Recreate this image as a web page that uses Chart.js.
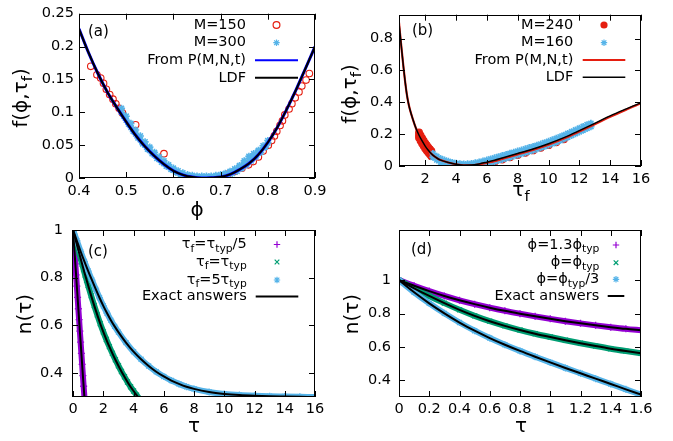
<!DOCTYPE html>
<html lang="en">
<head>
  <meta charset="UTF-8" />
  <title>Large deviation panels</title>
  <script src="https://cdn.jsdelivr.net/npm/chart.js"></script>
  <style>
    html, body { margin: 0; padding: 0; background: #fff; }
    #wrap { position: relative; width: 673px; height: 441px; }
    #wrap canvas { position: absolute; left: 0; top: 0; }
  </style>
</head>
<body>
  <div id="wrap">
    <canvas id="pa" width="673" height="441"></canvas>
    <canvas id="pb" width="673" height="441"></canvas>
    <canvas id="pc" width="673" height="441"></canvas>
    <canvas id="pd" width="673" height="441"></canvas>
  </div>

  <script>
    // ---------- panel (a) ----------
    const aTicksX = [0.4, 0.5, 0.6, 0.7, 0.8, 0.9];
    const aTicksY = [0, 0.05, 0.1, 0.15, 0.2, 0.25];
    const aCurveX = [0.40, 0.42, 0.44, 0.46, 0.48, 0.50, 0.52, 0.54, 0.56, 0.58, 0.60, 0.62, 0.64,
                     0.66, 0.68, 0.70, 0.72, 0.74, 0.76, 0.78, 0.80, 0.82, 0.84, 0.86, 0.88, 0.90];
    const aLdfY   = [0.227, 0.191, 0.159, 0.131, 0.1075, 0.0855, 0.065, 0.0478, 0.0333, 0.021, 0.011, 0.0048, 0.0014,
                     0.0, 0.0004, 0.0015, 0.0055, 0.0128, 0.022, 0.0355, 0.054, 0.077, 0.1045, 0.1345, 0.167, 0.200];
    const aFromPY = [0.227, 0.191, 0.159, 0.131, 0.1075, 0.0855, 0.065, 0.0478, 0.0333, 0.021, 0.011, 0.0048, 0.0014,
                     0.0, 0.0004, 0.0015, 0.0055, 0.0128, 0.022, 0.0355, 0.054, 0.077, 0.1045, 0.1345, 0.167, 0.200];
    const aM150X = [0.425, 0.438, 0.446, 0.452, 0.458, 0.465, 0.472, 0.478, 0.485, 0.492, 0.520, 0.580,
                    0.705, 0.716, 0.730, 0.745, 0.759, 0.769, 0.780, 0.790, 0.801, 0.808, 0.814, 0.819,
                    0.826, 0.831, 0.836, 0.845, 0.851, 0.858, 0.866, 0.872, 0.881, 0.888];
    const aM150Y = [0.170, 0.157, 0.152, 0.144, 0.135, 0.127, 0.120, 0.113, 0.106, 0.099, 0.081, 0.037,
                    0.003, 0.006, 0.010, 0.015, 0.020, 0.025, 0.032, 0.041, 0.050, 0.057, 0.064, 0.071,
                    0.080, 0.087, 0.096, 0.105, 0.113, 0.122, 0.131, 0.140, 0.149, 0.159];
    const aM300XA = [0.49, 0.50, 0.51, 0.52, 0.53, 0.54, 0.55, 0.56, 0.57, 0.58, 0.59, 0.60, 0.61, 0.62, 0.63, 0.64,
                     0.65, 0.66, 0.67, 0.68, 0.69, 0.70, 0.71, 0.72, 0.73, 0.74, 0.75, 0.76, 0.77, 0.78, 0.79, 0.80];
    const aM300YA = [0.106, 0.094, 0.083, 0.073, 0.064, 0.055, 0.047, 0.039, 0.032, 0.026, 0.020, 0.015, 0.011, 0.008, 0.005, 0.004,
                     0.003, 0.003, 0.003, 0.003, 0.004, 0.005, 0.007, 0.010, 0.014, 0.019, 0.026, 0.033, 0.037, 0.042, 0.049, 0.057];
    const aM300XB = [0.495, 0.505, 0.515, 0.525, 0.535, 0.545, 0.555, 0.565, 0.575, 0.585, 0.595, 0.605, 0.615, 0.625, 0.635, 0.645,
                     0.655, 0.665, 0.675, 0.685, 0.695, 0.705, 0.715, 0.725, 0.735, 0.745, 0.755, 0.765, 0.775, 0.785, 0.795];
    const aM300YB = [0.094, 0.082, 0.071, 0.061, 0.052, 0.044, 0.037, 0.030, 0.024, 0.018, 0.013, 0.009, 0.006, 0.003, 0.001, 0.0005,
                     0, 0, 0, 0.0005, 0.001, 0.002, 0.004, 0.007, 0.010, 0.015, 0.020, 0.026, 0.032, 0.039, 0.047];
    const aM300YC = [0.100, 0.088, 0.077, 0.067, 0.058, 0.050, 0.042, 0.035, 0.028, 0.022, 0.017, 0.012, 0.008, 0.005, 0.003, 0.002,
                     0.001, 0.001, 0.001, 0.001, 0.002, 0.003, 0.005, 0.008, 0.012, 0.017, 0.023, 0.030, 0.034, 0.040, 0.046, 0.053];

    // ---------- panel (b) ----------
    const bTicksX = [2, 4, 6, 8, 10, 12, 14, 16];
    const bTicksY = [0, 0.2, 0.4, 0.6, 0.8];
    const bCurveX = [0.3, 0.4, 0.5, 0.6, 0.7, 0.8, 0.9, 1.0, 1.2, 1.4, 1.6, 1.8, 2.0, 2.2, 2.4, 2.6, 2.8, 3.0,
                     3.5, 4.0, 4.5, 5.0, 5.5, 6.0, 6.5, 7.0, 7.5, 8.0, 9, 10, 11, 12, 13, 14, 15, 16];
    const bLdfY   = [0.90, 0.80, 0.705, 0.612, 0.528, 0.455, 0.40, 0.358, 0.293, 0.237, 0.193, 0.157, 0.125, 0.099, 0.077, 0.060, 0.047, 0.037,
                     0.022, 0.011, 0.005, 0.006, 0.013, 0.024, 0.036, 0.050, 0.064, 0.078, 0.107, 0.140, 0.178, 0.222, 0.268, 0.315, 0.357, 0.397];
    const bFromPY = [0.90, 0.80, 0.705, 0.612, 0.528, 0.455, 0.40, 0.358, 0.293, 0.237, 0.193, 0.157, 0.125, 0.099, 0.077, 0.060, 0.047, 0.037,
                     0.022, 0.011, 0.004, 0.004, 0.010, 0.020, 0.031, 0.045, 0.059, 0.073, 0.101, 0.134, 0.172, 0.216, 0.262, 0.309, 0.352, 0.393];
    const bM240X = [1.6, 1.7, 1.8, 1.9, 2.0, 2.1, 2.2, 2.3, 2.4];
    const bM240UpperY = [0.211, 0.192, 0.175, 0.159, 0.143, 0.130, 0.117, 0.106, 0.095];
    const bM240MidY   = [0.193, 0.174, 0.157, 0.141, 0.125, 0.112, 0.099, 0.088, 0.077];
    const bM240LowerY = [0.178, 0.159, 0.142, 0.126, 0.110, 0.097, 0.084, 0.073, 0.062];
    const bM240TailX = [4.5, 5.0, 5.5, 6.0, 6.5, 7.0, 7.5, 8.0, 8.5, 9.0, 9.5, 10, 10.5, 11];
    const bM240TailY = [-0.003, -0.002, 0.005, 0.015, 0.027, 0.041, 0.055, 0.069, 0.083, 0.098, 0.114, 0.131, 0.149, 0.168];
    const bM160X = [2.5, 2.75, 3, 3.25, 3.5, 3.75, 4, 4.25, 4.5, 4.75, 5, 5.25, 5.5, 5.75, 6, 6.25, 6.5, 6.75, 7, 7.25, 7.5,
                    7.75, 8, 8.25, 8.5, 8.75, 9, 9.25, 9.5, 9.75, 10, 10.25, 10.5, 10.75, 11, 11.25, 11.5, 11.75, 12, 12.25, 12.5, 12.75];
    const bM160UpperY = [0.078, 0.060, 0.046, 0.037, 0.029, 0.022, 0.017, 0.014, 0.012, 0.013, 0.015, 0.019, 0.024, 0.030, 0.037,
                         0.044, 0.051, 0.058, 0.065, 0.072, 0.079, 0.086, 0.093, 0.100, 0.107, 0.115, 0.122, 0.130, 0.138, 0.146,
                         0.155, 0.164, 0.173, 0.183, 0.193, 0.204, 0.215, 0.226, 0.237, 0.248, 0.259, 0.268];
    const bM160LowerY = [0.055, 0.038, 0.024, 0.015, 0.008, 0.003, 0.000, -0.002, -0.003, -0.003, -0.002, 0.001, 0.005, 0.010, 0.016,
                         0.022, 0.028, 0.035, 0.042, 0.049, 0.056, 0.063, 0.070, 0.077, 0.084, 0.092, 0.099, 0.107, 0.115, 0.123,
                         0.132, 0.141, 0.150, 0.160, 0.170, 0.181, 0.192, 0.203, 0.214, 0.225, 0.236, 0.247];

    // ---------- panel (c) ----------
    const cTicksX = [0, 2, 4, 6, 8, 10, 12, 14, 16];
    const cTicksY = [0.4, 0.6, 0.8, 1];
    const cFifthX = [0, 0.05, 0.1, 0.15, 0.2, 0.25, 0.3, 0.35, 0.4, 0.45, 0.5, 0.55, 0.6, 0.65, 0.7, 0.75, 0.8];
    const cFifthY = [1, 0.95, 0.905, 0.858, 0.812, 0.765, 0.718, 0.67, 0.624, 0.576, 0.53, 0.483, 0.437, 0.39, 0.345, 0.30, 0.255];
    const cTypX = [0, 0.1, 0.2, 0.3, 0.4, 0.5, 0.6, 0.7, 0.8, 0.9, 1.0, 1.2, 1.4, 1.6, 1.8, 2.0, 2.2, 2.4, 2.6, 2.8,
                   3.0, 3.2, 3.4, 3.6, 3.8, 4.0, 4.2, 4.4, 4.6];
    const cTypY = [1, 0.975, 0.951, 0.927, 0.904, 0.881, 0.857, 0.834, 0.811, 0.789, 0.767, 0.724, 0.683, 0.644, 0.607,
                   0.573, 0.541, 0.511, 0.483, 0.456, 0.431, 0.407, 0.385, 0.363, 0.343, 0.325, 0.308, 0.292, 0.277];
    const cFiveX = [0, 0.25, 0.5, 0.75, 1, 1.25, 1.5, 1.75, 2, 2.25, 2.5, 2.75, 3, 3.5, 4, 4.5, 5, 5.5, 6, 6.5, 7, 7.5, 8,
                    9, 10, 11, 12, 13, 14, 15, 16];
    const cFiveY = [1, 0.955, 0.91, 0.868, 0.828, 0.79, 0.752, 0.716, 0.682, 0.651, 0.622, 0.596, 0.572, 0.528, 0.49, 0.458,
                    0.43, 0.406, 0.386, 0.369, 0.355, 0.343, 0.334, 0.321, 0.313, 0.308, 0.305, 0.303, 0.302, 0.301, 0.300];

    // ---------- panel (d) ----------
    const dTicksX = [0, 0.2, 0.4, 0.6, 0.8, 1, 1.2, 1.4, 1.6];
    const dTicksY = [0.4, 0.6, 0.8, 1];
    const dTau = [0, 0.1, 0.2, 0.3, 0.4, 0.5, 0.6, 0.7, 0.8, 0.9, 1.0, 1.1, 1.2, 1.3, 1.4, 1.5, 1.6];
    const dHighY  = [1, 0.966, 0.934, 0.905, 0.879, 0.856, 0.835, 0.816, 0.799, 0.783, 0.768, 0.754, 0.741, 0.729, 0.718, 0.708, 0.70];
    const dTypY   = [1, 0.951, 0.905, 0.862, 0.822, 0.786, 0.754, 0.726, 0.701, 0.679, 0.659, 0.64, 0.622, 0.605, 0.589, 0.575, 0.562];
    const dThirdY = [1, 0.927, 0.861, 0.801, 0.746, 0.697, 0.653, 0.613, 0.576, 0.541, 0.507, 0.474, 0.442, 0.41, 0.378, 0.346, 0.314];

    // ---------- drawing ----------
    const FONT = '"DejaVu Sans", "Liberation Sans", sans-serif';
    const RED = '#e51e10', SKY = '#56b4e9', PURPLE = '#9400d3', GREEN = '#009e73', BLUE = '#0000ff';

    const pts = (xs, ys) => xs.map((x, i) => ({ x: x, y: ys[i] }));
    const fmt = v => String(Math.round(v * 1000) / 1000);

    function lineSet(data, color, width, order) {
      return { data: data, showLine: true, borderColor: color, borderWidth: width, pointRadius: 0,
               cubicInterpolationMode: 'monotone', order: order, clip: 0 };
    }
    function markSet(data, style, color, radius, fill, order, lw) {
      return { data: data, showLine: false, pointStyle: style, pointRadius: radius, pointBorderWidth: lw || 1.1,
               pointBorderColor: color, pointBackgroundColor: fill ? color : 'rgba(0,0,0,0)', order: order };
    }
    function bandSet(data, style, color, order) {
      return { data: data, showLine: true, borderColor: color, borderWidth: 6, cubicInterpolationMode: 'monotone',
               pointStyle: style, pointRadius: 3.5, pointBorderWidth: 1.3, pointBorderColor: color,
               pointBackgroundColor: color, order: order, clip: 0 };
    }

    // text with _{sub} parts
    function drawRich(ctx, s, x, y, size, align) {
      const parts = [];
      const re = /_\{([^}]*)\}/g;
      let last = 0, m;
      while ((m = re.exec(s))) {
        if (m.index > last) parts.push({ t: s.slice(last, m.index), sub: false });
        parts.push({ t: m[1], sub: true });
        last = re.lastIndex;
      }
      if (last < s.length) parts.push({ t: s.slice(last), sub: false });
      const fontOf = p => (p.sub ? size * 0.74 : size) + 'px ' + FONT;
      let w = 0;
      parts.forEach(p => { ctx.font = fontOf(p); p.w = ctx.measureText(p.t).width; w += p.w; });
      let cx = align === 'right' ? x - w : align === 'center' ? x - w / 2 : x;
      ctx.textAlign = 'left';
      ctx.textBaseline = 'middle';
      parts.forEach(p => {
        ctx.font = fontOf(p);
        ctx.fillText(p.t, cx, y + (p.sub ? size * 0.32 : 0));
        cx += p.w;
      });
    }

    function drawMarker(ctx, kind, x, y, color) {
      ctx.save();
      ctx.strokeStyle = color; ctx.fillStyle = color; ctx.lineWidth = 1.2;
      const r = 3.2;
      ctx.beginPath();
      if (kind === 'circleOpen') { ctx.arc(x, y, 3.4, 0, 2 * Math.PI); ctx.stroke(); }
      else if (kind === 'dot') { ctx.arc(x, y, 3.6, 0, 2 * Math.PI); ctx.fill(); }
      else {
        if (kind === 'cross' || kind === 'star') {
          ctx.moveTo(x - r, y); ctx.lineTo(x + r, y); ctx.moveTo(x, y - r); ctx.lineTo(x, y + r);
        }
        if (kind === 'crossRot' || kind === 'star') {
          const d = r * 0.72;
          ctx.moveTo(x - d, y - d); ctx.lineTo(x + d, y + d); ctx.moveTo(x - d, y + d); ctx.lineTo(x + d, y - d);
        }
        ctx.stroke();
      }
      ctx.restore();
    }

    function makeDeco(p) {
      return {
        id: 'deco',
        afterDraw(chart) {
          const ctx = chart.ctx, a = chart.chartArea;
          const xs = chart.scales.x, ys = chart.scales.y, L = 6;
          ctx.save();
          ctx.strokeStyle = '#000';
          ctx.lineWidth = 1;
          ctx.beginPath();
          xs.ticks.forEach(t => {
            const px = Math.round(xs.getPixelForValue(t.value)) + 0.5;
            ctx.moveTo(px, a.bottom); ctx.lineTo(px, a.bottom - L);
            ctx.moveTo(px, a.top); ctx.lineTo(px, a.top + L);
          });
          ys.ticks.forEach(t => {
            const py = Math.round(ys.getPixelForValue(t.value)) + 0.5;
            ctx.moveTo(a.left, py); ctx.lineTo(a.left + L, py);
            ctx.moveTo(a.right, py); ctx.lineTo(a.right - L, py);
          });
          ctx.stroke();
          ctx.strokeRect(Math.round(a.left) + 0.5, Math.round(a.top) + 0.5,
                         Math.round(a.width) - 1, Math.round(a.height) - 1);
          ctx.fillStyle = '#000';

          // panel label
          drawRich(ctx, p.label.text, p.label.x, p.label.y, 15, 'left');
          // axis titles
          drawRich(ctx, p.xTitle.text, p.xTitle.x, p.xTitle.y, 20, 'center');
          ctx.save();
          ctx.translate(p.yTitle.x, p.yTitle.y);
          ctx.rotate(-Math.PI / 2);
          drawRich(ctx, p.yTitle.text, 0, 0, 20, 'center');
          ctx.restore();

          // key
          const k = p.legend;
          k.items.forEach(it => {
            ctx.fillStyle = '#000';
            drawRich(ctx, it.text, k.textRight, it.y, 14.5, 'right');
            if (it.kind === 'line') {
              ctx.beginPath();
              ctx.strokeStyle = it.color; ctx.lineWidth = it.width;
              ctx.moveTo(k.s1, it.y); ctx.lineTo(k.s2, it.y);
              ctx.stroke();
            } else {
              drawMarker(ctx, it.kind, (k.s1 + k.s2) / 2, it.y, it.color);
            }
          });
          ctx.restore();
        }
      };
    }

    function makePanel(p) {
      const r = p.rect;
      new Chart(document.getElementById(p.id), {
        type: 'scatter',
        data: { datasets: p.datasets },
        options: {
          responsive: false,
          animation: false,
          events: [],
          layout: { padding: { left: 0, top: r.t, right: 673 - r.r, bottom: 441 - r.b - 30 } },
          plugins: { legend: { display: false }, tooltip: { enabled: false } },
          scales: {
            x: {
              type: 'linear', min: p.x.min, max: p.x.max,
              afterFit: s => { s.height = 30; },
              afterBuildTicks: s => { s.ticks = p.x.ticks.map(v => ({ value: v })); },
              grid: { display: false, drawTicks: false }, border: { display: false },
              ticks: { padding: p.xPad, color: '#000', font: { family: FONT, size: 14.5 },
                       maxRotation: 0, autoSkip: false, callback: v => fmt(v) }
            },
            y: {
              type: 'linear', min: p.y.min, max: p.y.max,
              afterFit: s => { s.width = r.l; },
              afterBuildTicks: s => { s.ticks = p.y.ticks.map(v => ({ value: v })); },
              grid: { display: false, drawTicks: false }, border: { display: false },
              ticks: { padding: p.yPad, color: '#000', font: { family: FONT, size: 14.5 },
                       autoSkip: false, callback: v => fmt(v) }
            }
          }
        },
        plugins: [makeDeco(p)]
      });
    }

    makePanel({
      id: 'pa', rect: { l: 79, t: 12, r: 315, b: 178 },
      x: { min: 0.4, max: 0.9, ticks: aTicksX }, y: { min: 0, max: 0.25, ticks: aTicksY },
      xPad: 5, yPad: 5,
      datasets: [
        lineSet(pts(aCurveX, aLdfY), '#000', 2, 0),
        lineSet(pts(aCurveX, aFromPY), BLUE, 3, 1),
        markSet(pts(aM300XA, aM300YA).concat(pts(aM300XB, aM300YB), pts(aM300XA, aM300YC)), 'star', SKY, 3.6, false, 2, 1.6),
        markSet(pts(aM150X, aM150Y), 'circle', RED, 3.3, false, 3)
      ],
      label: { text: '(a)', x: 88, y: 32 },
      xTitle: { text: 'ϕ', x: 197, y: 211 },
      yTitle: { text: 'f(ϕ,τ_{f})', x: 22, y: 98 },
      legend: { textRight: 246, s1: 255, s2: 298, items: [
        { text: 'M=150', y: 25, kind: 'circleOpen', color: RED },
        { text: 'M=300', y: 42.7, kind: 'star', color: SKY },
        { text: 'From P(M,N,t)', y: 60.3, kind: 'line', color: BLUE, width: 2 },
        { text: 'LDF', y: 77.8, kind: 'line', color: '#000', width: 2 }
      ] }
    });

    makePanel({
      id: 'pb', rect: { l: 399, t: 12, r: 641, b: 166 },
      x: { min: 0.3, max: 16, ticks: bTicksX }, y: { min: 0, max: 0.95, ticks: bTicksY },
      xPad: 5, yPad: 6,
      datasets: [
        lineSet(pts(bCurveX, bLdfY), '#000', 1.5, 0),
        lineSet(pts(bCurveX, bFromPY), RED, 2.2, 1),
        markSet(pts(bM160X, bM160UpperY).concat(pts(bM160X, bM160LowerY)), 'star', SKY, 3.6, false, 2, 1.7),
        markSet(pts(bM240X, bM240UpperY).concat(pts(bM240X, bM240MidY), pts(bM240X, bM240LowerY),
                pts(bM240TailX, bM240TailY)), 'circle', RED, 3.4, true, 3)
      ],
      label: { text: '(b)', x: 412, y: 31 },
      xTitle: { text: 'τ_{f}', x: 521, y: 191 },
      yTitle: { text: 'f(ϕ,τ_{f})', x: 351, y: 94 },
      legend: { textRight: 573.3, s1: 582.7, s2: 625.3, items: [
        { text: 'M=240', y: 25, kind: 'dot', color: RED },
        { text: 'M=160', y: 42.7, kind: 'star', color: SKY },
        { text: 'From P(M,N,t)', y: 60, kind: 'line', color: RED, width: 2 },
        { text: 'LDF', y: 77.3, kind: 'line', color: '#000', width: 1.5 }
      ] }
    });

    makePanel({
      id: 'pc', rect: { l: 72, t: 230, r: 315, b: 397 },
      x: { min: -0.07, max: 16, ticks: cTicksX }, y: { min: 0.3, max: 1, ticks: cTicksY },
      xPad: 3.5, yPad: 9,
      datasets: [
        lineSet(pts(cFifthX, cFifthY), '#000', 2, 0),
        lineSet(pts(cTypX, cTypY), '#000', 2, 0),
        lineSet(pts(cFiveX, cFiveY), '#000', 2, 0),
        bandSet(pts(cFiveX, cFiveY), 'star', SKY, 1),
        bandSet(pts(cTypX, cTypY), 'crossRot', GREEN, 2),
        bandSet(pts(cFifthX, cFifthY), 'cross', PURPLE, 3)
      ],
      label: { text: '(c)', x: 88, y: 252 },
      xTitle: { text: 'τ', x: 194, y: 427 },
      yTitle: { text: 'n(τ)', x: 25.7, y: 314 },
      legend: { textRight: 246.7, s1: 255.7, s2: 298.3, items: [
        { text: 'τ_{f}=τ_{typ}/5', y: 244.5, kind: 'cross', color: PURPLE },
        { text: 'τ_{f}=τ_{typ}', y: 262, kind: 'crossRot', color: GREEN },
        { text: 'τ_{f}=5τ_{typ}', y: 280, kind: 'star', color: SKY },
        { text: 'Exact answers', y: 296.5, kind: 'line', color: '#000', width: 2 }
      ] }
    });

    makePanel({
      id: 'pd', rect: { l: 399, t: 230, r: 641, b: 397 },
      x: { min: 0, max: 1.6, ticks: dTicksX }, y: { min: 0.3, max: 1.3, ticks: dTicksY },
      xPad: 3.5, yPad: 8,
      datasets: [
        lineSet(pts(dTau, dHighY), '#000', 2, 0),
        lineSet(pts(dTau, dTypY), '#000', 2, 0),
        lineSet(pts(dTau, dThirdY), '#000', 2, 0),
        bandSet(pts(dTau, dThirdY), 'star', SKY, 1),
        bandSet(pts(dTau, dTypY), 'crossRot', GREEN, 2),
        bandSet(pts(dTau, dHighY), 'cross', PURPLE, 3)
      ],
      label: { text: '(d)', x: 411, y: 250 },
      xTitle: { text: 'τ', x: 521, y: 427 },
      yTitle: { text: 'n(τ)', x: 352.7, y: 314 },
      legend: { textRight: 599.3, s1: 607.7, s2: 624.3, items: [
        { text: 'ϕ=1.3ϕ_{typ}', y: 245, kind: 'cross', color: PURPLE },
        { text: 'ϕ=ϕ_{typ}', y: 262.7, kind: 'crossRot', color: GREEN },
        { text: 'ϕ=ϕ_{typ}/3', y: 279.3, kind: 'star', color: SKY },
        { text: 'Exact answers', y: 296, kind: 'line', color: '#000', width: 2 }
      ] }
    });
  </script>
</body>
</html>
